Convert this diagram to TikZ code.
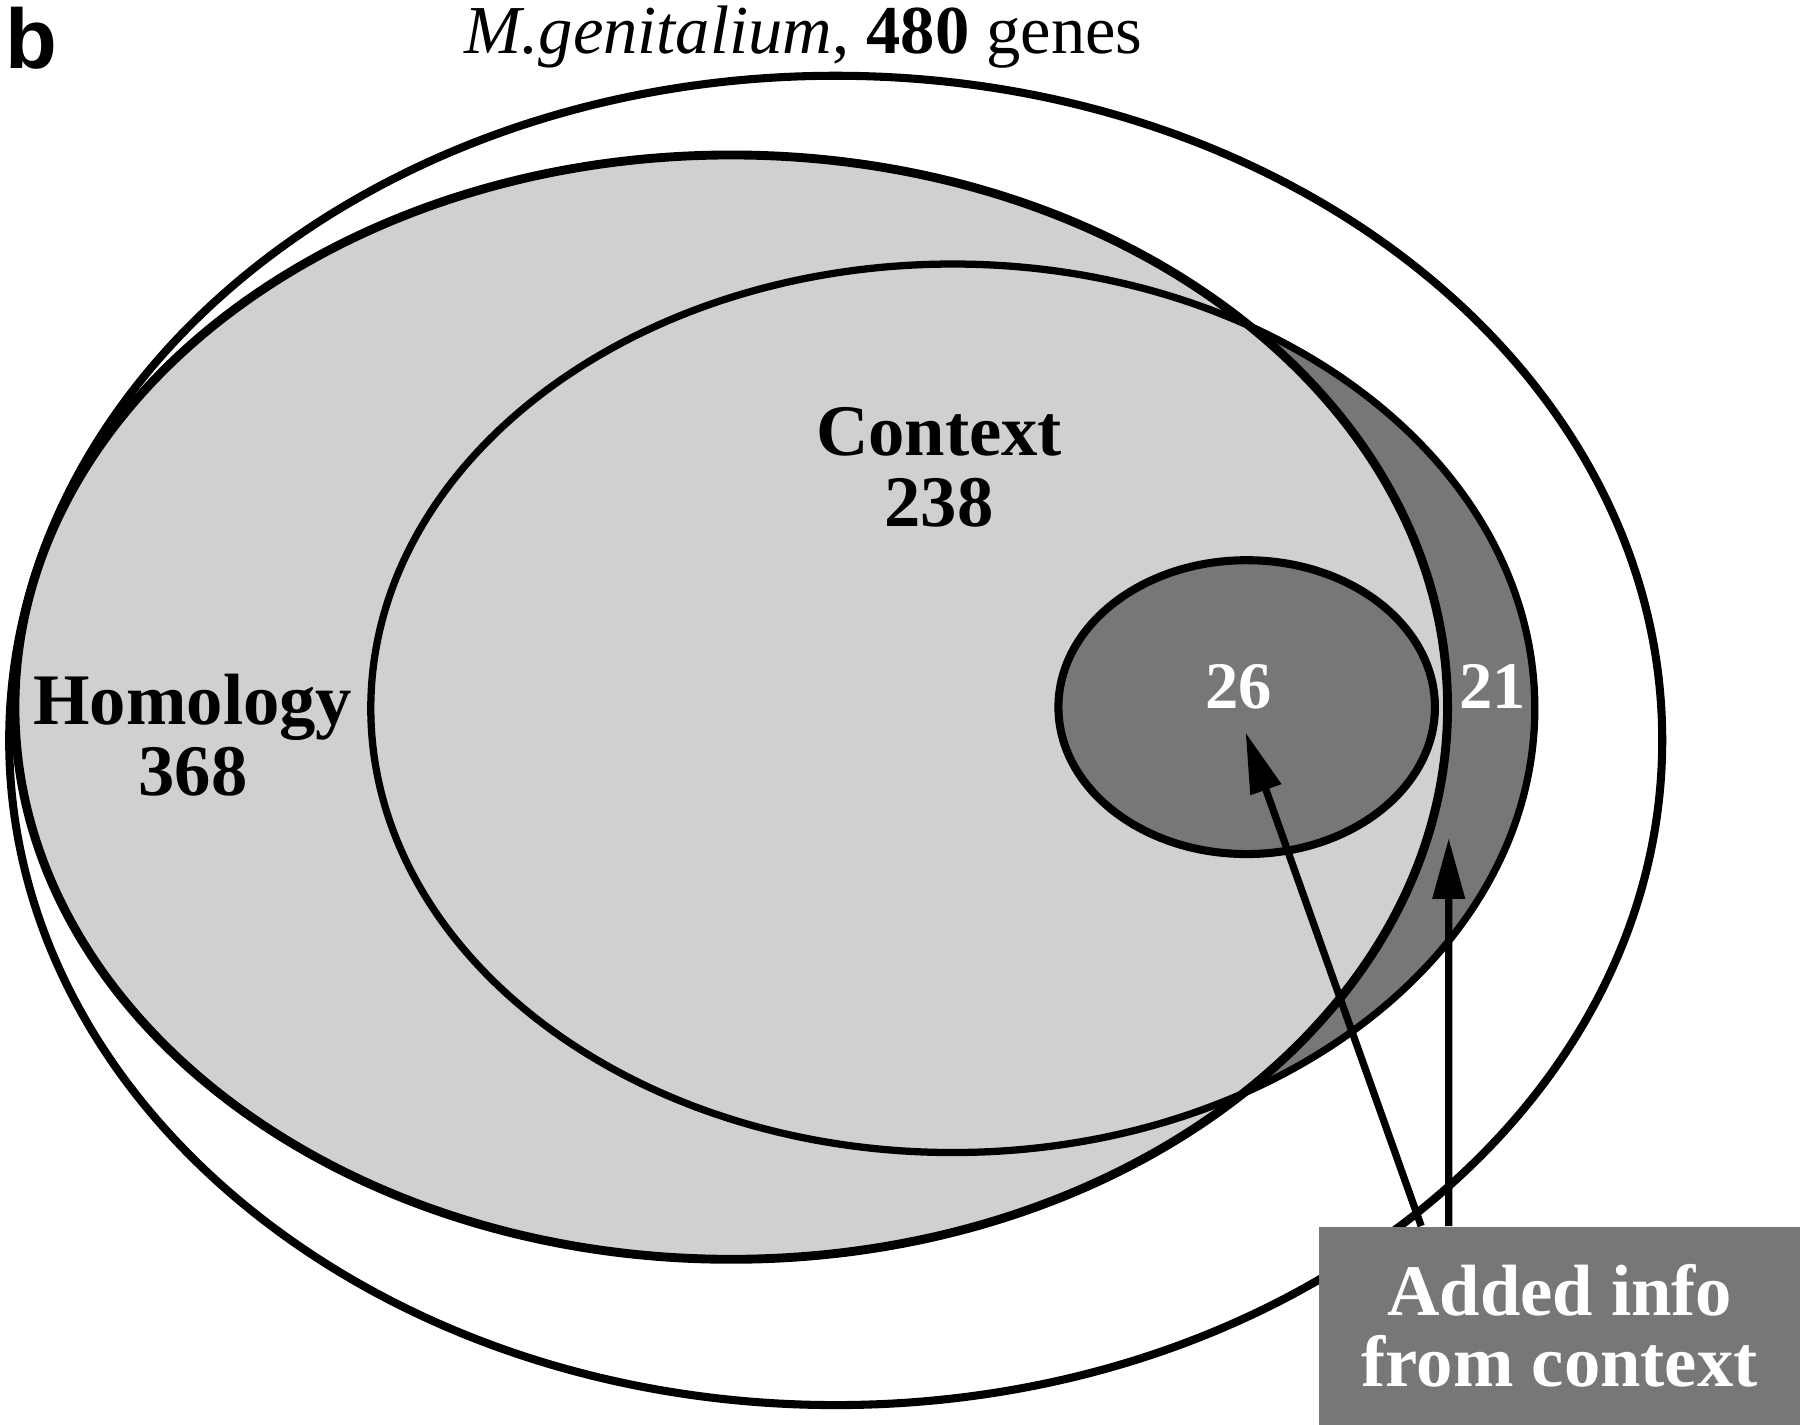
\documentclass[tikz,border=0pt]{standalone}
\usepackage{fontspec}
\setmainfont{Liberation Serif}
\newfontfamily\panelfont{Liberation Sans}
\usetikzlibrary{arrows.meta}
\definecolor{homgray}{HTML}{D0D0D0}
\definecolor{ctxgray}{HTML}{777777}

\begin{document}
\begin{tikzpicture}[x=0.1mm, y=-0.1mm,
    setline/.style={line width=2pt},
    setlabel/.style={font=\bfseries\fontsize{18}{17.6}\selectfont, align=center, inner sep=0pt},
    count/.style={font=\bfseries\fontsize{16.5}{16.5}\selectfont, text=white, inner sep=0pt},
    pointer/.style={line width=1.8pt, -{Triangle[length=5.3mm, width=2.7mm]}}]
    \useasboundingbox (0,0) rectangle (1568,1241);
    % genome, homology, context
    \draw[setline] (728,645) ellipse [x radius=72mm, y radius=57.9mm];
    \fill[ctxgray] (830,617) ellipse [x radius=50.7mm, y radius=38.7mm];
    \filldraw[setline, line width=2.2pt, fill=homgray] (637,616) ellipse [x radius=62.4mm, y radius=48.1mm];
    \draw[setline, line width=1.8pt] (830,617) ellipse [x radius=50.7mm, y radius=38.7mm];
    \filldraw[setline, fill=ctxgray] (1086,616) ellipse [x radius=16.4mm, y radius=12.8mm];
    % labels
    \node [anchor=base west, inner sep=0pt, font=\panelfont\bfseries\fontsize{21}{21}\selectfont] (panel) at (4,60) {b};
    \node [anchor=base, inner sep=0pt, font=\fontsize{17}{17}\selectfont] (title) at (700,47) {\textit{M.genitalium}, \textbf{480} genes};
    \node [setlabel] (homology) at (168,640) {Homology\\368};
    \node [setlabel] (context) at (818,407) {Context\\238};
    \node [count] (both) at (1079,598) {26};
    \node [count] (only) at (1300,598) {21};
    \node [setlabel, text=white, fill=ctxgray, anchor=north west, minimum width=42mm, minimum height=17.3mm] (added) at (1148,1068) {Added info\\from context};
    \coordinate (tipboth) at (1085,638);
    \coordinate (tiponly) at (1262,730);
    \draw [pointer] ([xshift=9mm]added.north west) -- (tipboth);
    \draw [pointer] ([xshift=11.4mm]added.north west) -- (tiponly);
\end{tikzpicture}
\end{document}
